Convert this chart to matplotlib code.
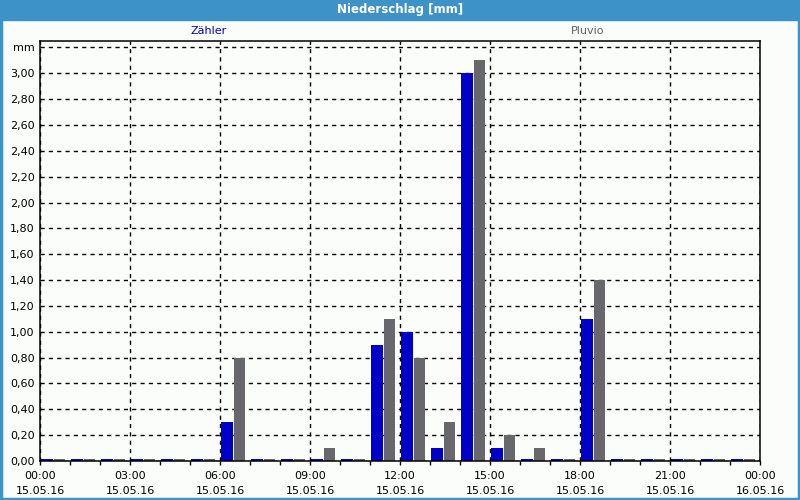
import matplotlib.pyplot as plt
import numpy as np
from matplotlib.patches import Rectangle

# hourly precipitation, 15.05.16 00:00 .. 16.05.16 00:00
hours = np.arange(24)
zaehler = [0.015, 0.015, 0.015, 0.015, 0.015, 0.015, 0.30, 0.015, 0.015, 0.015, 0.015, 0.90,
           1.00, 0.10, 3.00, 0.10, 0.015, 0.015, 1.10, 0.015, 0.015, 0.015, 0.015, 0.015]
pluvio = [0.015, 0.015, 0.015, 0.015, 0.015, 0.015, 0.80, 0.015, 0.015, 0.10, 0.015, 1.10,
          0.80, 0.30, 3.10, 0.20, 0.10, 0.015, 1.40, 0.015, 0.015, 0.015, 0.015, 0.015]
xtick_labels = ['00:00\n15.05.16', '03:00\n15.05.16', '06:00\n15.05.16', '09:00\n15.05.16',
                '12:00\n15.05.16', '15:00\n15.05.16', '18:00\n15.05.16', '21:00\n15.05.16',
                '00:00\n16.05.16']
yticks = np.arange(0, 3.21, 0.2)
ytick_labels = ['%.2f' % v for v in yticks[:-1]]
ytick_labels = [s.replace('.', ',') for s in ytick_labels] + ['mm']

blue = '#0000c8'
gray = '#68676c'
frame = '#3d93c8'
bg = '#fbfdfb'

fig = plt.figure(figsize=(8, 5), dpi=100, facecolor=bg)
ax = fig.add_axes([0.05, 0.078, 0.90, 0.8406])
ax.set_facecolor(bg)

ax.bar(hours + 0.04, zaehler, width=0.38, align='edge', color=blue, zorder=3)
ax.bar(hours + 0.45, pluvio, width=0.37, align='edge', color=gray, zorder=3)

ax.set_xlim(0, 24)
ax.set_ylim(0, 3.252)
ax.set_xticks(np.arange(0, 25, 3))
ax.set_xticklabels(xtick_labels, fontsize=8, linespacing=1.6)
ax.set_xticks(np.arange(0, 25, 1), minor=True)
ax.tick_params(axis='x', which='both', length=3, width=1, direction='out', pad=4)
ax.set_yticks(yticks)
ax.set_yticklabels(ytick_labels, fontsize=8)
ax.tick_params(axis='y', length=0, pad=4)

ax.grid(True, which='major', color='black', linestyle=(0, (3, 3)), linewidth=1, zorder=1)
for s in ax.spines.values():
    s.set_linewidth(1.1)
    s.set_zorder(4)

# title bar and frame
fig.patches.append(Rectangle((0, 1 - 20 / 500), 1, 20 / 500, transform=fig.transFigure,
                             color=frame, zorder=0))
fig.patches.append(Rectangle((0.0015, 0.003), 0.997, 0.99, transform=fig.transFigure,
                             fill=False, edgecolor=frame, linewidth=2.5, zorder=0))
fig.text(0.5, 1 - 10 / 500, 'Niederschlag [mm]', color='white', fontsize=8.5,
         fontweight='bold', ha='center', va='center')

# legend labels
fig.text(209 / 800, 1 - 31 / 500, 'Zähler', color=blue, fontsize=8, ha='center', va='center')
fig.text(588 / 800, 1 - 31 / 500, 'Pluvio', color='#606060', fontsize=8, ha='center', va='center')

plt.savefig('out.png', dpi=100, facecolor=bg)
